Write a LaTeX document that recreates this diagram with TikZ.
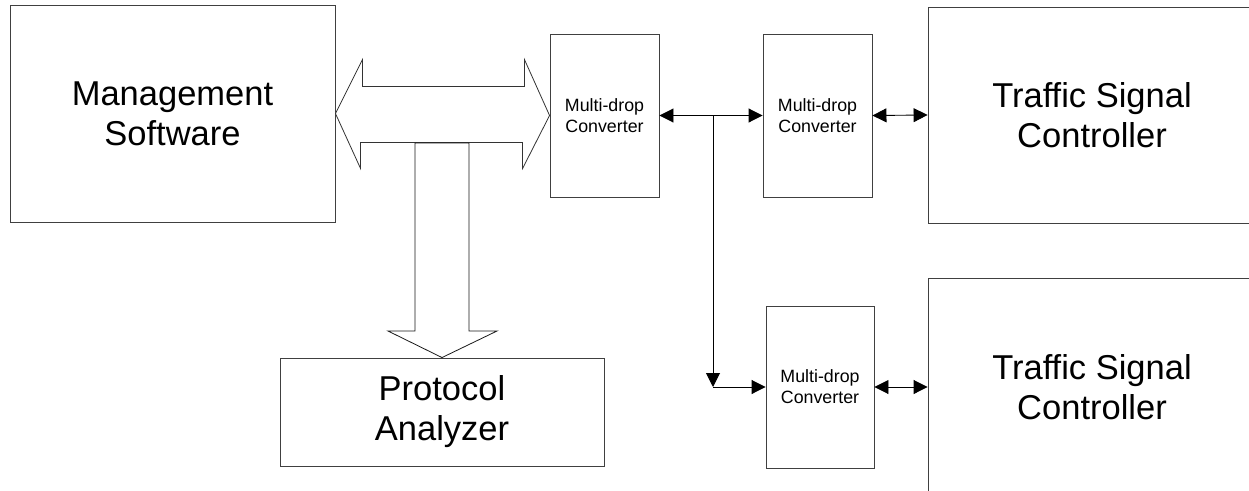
\documentclass[tikz,border=0pt]{standalone}
\usepackage{fontspec}
\setmainfont{Liberation Sans}
\usetikzlibrary{arrows.meta}
\begin{document}
\begin{tikzpicture}[x=1pt,y=-1pt,
  box/.style={draw=black!75,line width=0.9pt,fill=white,inner sep=0pt,align=center,anchor=center},
  bigtext/.style={font=\fontsize{34.5}{40}\selectfont},
  smalltext/.style={font=\fontsize{17.8}{21}\selectfont},
  link/.style={draw=black,line width=0.9pt},
  tip/.style={-{Triangle[length=14pt,width=14pt]}},
  tips/.style={{Triangle[length=14pt,width=14pt]}-{Triangle[length=14pt,width=14pt]}},
  blockarrow/.style={draw=black!80,line width=0.8pt,fill=white,line join=miter}]
\useasboundingbox (0,0) rectangle (1249,490);
\clip (0,0) rectangle (1249,490);

% main blocks
\node[box,bigtext,minimum width=325pt,minimum height=217pt] (ms) at (172.5,113.5) {Management\\Software};
\node[box,bigtext,minimum width=324pt,minimum height=108pt] (pa) at (442,412) {Protocol\\Analyzer};
\node[box,smalltext,minimum width=109pt,minimum height=163pt] (m1) at (604.5,115.5) {Multi-drop\\Converter};
\node[box,smalltext,minimum width=109pt,minimum height=163pt] (m2) at (817.5,115.5) {Multi-drop\\Converter};
\node[box,smalltext,minimum width=108pt,minimum height=162pt] (m3) at (820,387) {Multi-drop\\Converter};
\node[box,bigtext,minimum width=328pt,minimum height=216pt] (t1) at (1092,115) {Traffic Signal\\Controller};
\node[box,bigtext,minimum width=328pt,minimum height=218pt] (t2) at (1092,387) {Traffic Signal\\Controller};

% wide two-way arrow between the software and the first converter
\draw[blockarrow] (ms.east)
  -- ++(27,-54) -- ++(0,27) -- ++(162,0) -- ++(0,-27)
  -- (m1.west)
  -- ++(-27,53) -- ++(0,-26) -- ++(-162,0) -- ++(0,26) -- cycle;

% tap from the wide arrow down to the analyzer
\coordinate (tapL) at (415,143);
\coordinate (tapR) at (469,143);
\draw[blockarrow,draw=black!90] (tapL) -- (tapR) -- (469,331) -- (497,331)
  -- (pa.north) -- (388,331) -- (415,331) -- cycle;

% serial links
\coordinate (j) at (713,116);
\coordinate (c) at (713,387);
\draw[link,tips] (m1.east) -- (m2.west);
\draw[link,tip] (j) -- (c);
\draw[link,tip] (c) -- (m3.west);
\draw[link,tips] (m2.east) -- (t1.west);
\draw[link,tips] (m3.east) -- (t2.west);
\end{tikzpicture}
\end{document}
